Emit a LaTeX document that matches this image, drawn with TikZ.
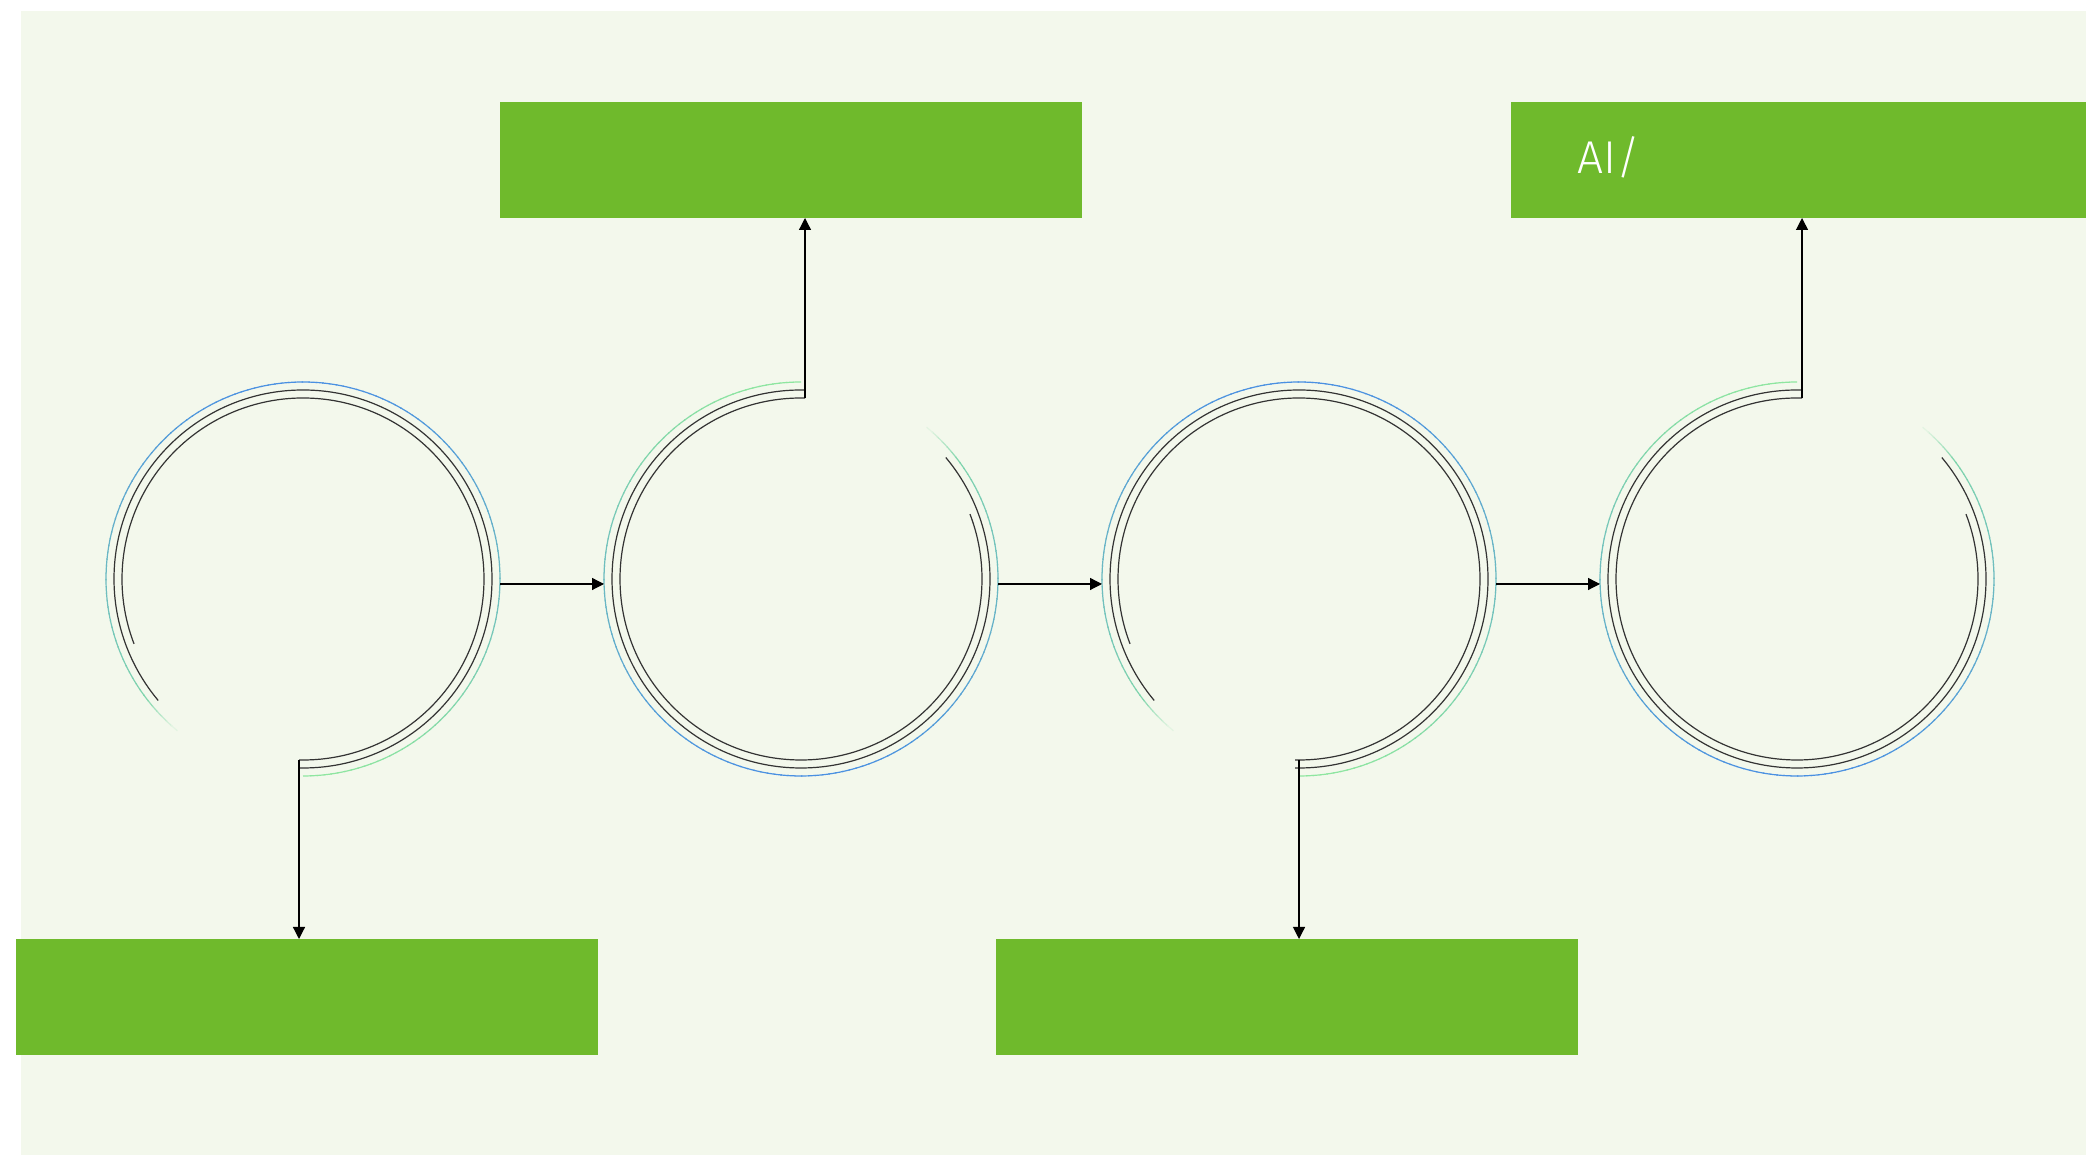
\documentclass[tikz,border=0pt]{standalone}
\usepackage{fontspec}
\newfontfamily\lightfont{Fira Sans Light}
\usetikzlibrary{arrows.meta,calc}
\definecolor{bgc}{HTML}{F3F8EC}
\definecolor{boxg}{HTML}{6FBA2C}
\definecolor{ringb}{HTML}{4A90E2}
\definecolor{ringg}{HTML}{8EE6A0}
\definecolor{linec}{HTML}{333333}
\begin{document}
\begin{tikzpicture}[x=0.5pt,y=0.5pt,
  gbox/.style={fill=boxg, draw=none, inner sep=0pt, outer sep=0pt, minimum width=291pt, minimum height=58pt},
  ring/.style={circle, draw=none, inner sep=0pt, outer sep=0pt, minimum size=197pt},
  arr/.style={draw=black, line width=0.6pt, -{Triangle[length=6pt,width=6pt]}},
  blk/.style={draw=linec, line width=0.6pt},
  ai/.style={anchor=base west, inner sep=0pt, text=white, font=\lightfont\fontsize{23}{27}\selectfont}]
\useasboundingbox (0,0) rectangle (2086,1155);
\fill[bgc] (21,0) rectangle (2086,1144);

% boxes
\node[gbox] (t1) at (791,995) {};
\node[gbox] (t2) at (1802,995) {};
\node[gbox] (b1) at (306.5,158) {};
\node[gbox] (b2) at (1287,158) {};
\node[ai] (aitext) at (1577,981) {AI/};

% ring anchors
\node[ring] (c1) at (303,576) {};
\node[ring] (c2) at (801,576) {};
\node[ring] (c3) at (1299,576) {};
\node[ring] (c4) at (1797,576) {};

% gradient outer rings
\foreach \cx/\st/\sgn in {303/-90/1, 801/90/-1, 1299/-90/1, 1797/90/-1}{
  \foreach \k in {0,2,...,318}{
    \pgfmathsetmacro{\ang}{\st+\k}
    \pgfmathsetmacro{\pc}{max(0,min(100,50+50*\sgn*sin(\ang+1)))}
    \pgfmathsetmacro{\fd}{max(0,min(100,(320-\k)/0.14))}
    \colorlet{tmpc}{ringb!\pc!ringg}
    \colorlet{tmpd}{tmpc!\fd!bgc}
    \draw[line width=0.6pt, draw=tmpd] (\cx,576) ++(\ang:197) arc[start angle=\ang, end angle=\ang+2.4, radius=197];
  }
}

% black arcs, circle 1
\draw[blk] (299,395) -- (303,395) arc[start angle=-90, end angle=201, radius=181];
\draw[blk] (299,387) -- (303,387) arc[start angle=-90, end angle=220, radius=189];
% circle 2
\draw[blk] (805,757) -- (801,757) arc[start angle=90, end angle=381, radius=181];
\draw[blk] (805,765) -- (801,765) arc[start angle=90, end angle=400, radius=189];
% circle 3
\draw[blk] (1295,395) -- (1299,395) arc[start angle=-90, end angle=201, radius=181];
\draw[blk] (1295,387) -- (1299,387) arc[start angle=-90, end angle=220, radius=189];
% circle 4
\draw[blk] (1802,757) -- (1797,757) arc[start angle=90, end angle=381, radius=181];
\draw[blk] (1802,765) -- (1797,765) arc[start angle=90, end angle=400, radius=189];

% vertical connectors
\coordinate (s1) at (299,395);
\coordinate (s2) at (805,757);
\coordinate (s3) at (1299,395);
\coordinate (s4) at (1802,757);
\draw[arr] (s1) -- (s1 |- b1.north);
\draw[arr] (s2) -- (s2 |- t1.south);
\draw[arr] (s3) -- (s3 |- b2.north);
\draw[arr] (s4) -- (s4 |- t2.south);

% horizontal connectors
\draw[arr] ([yshift=-2.5pt]c1.east) -- ([yshift=-2.5pt]c2.west);
\draw[arr] ([yshift=-2.5pt]c2.east) -- ([yshift=-2.5pt]c3.west);
\draw[arr] ([yshift=-2.5pt]c3.east) -- ([yshift=-2.5pt]c4.west);
\end{tikzpicture}
\end{document}
